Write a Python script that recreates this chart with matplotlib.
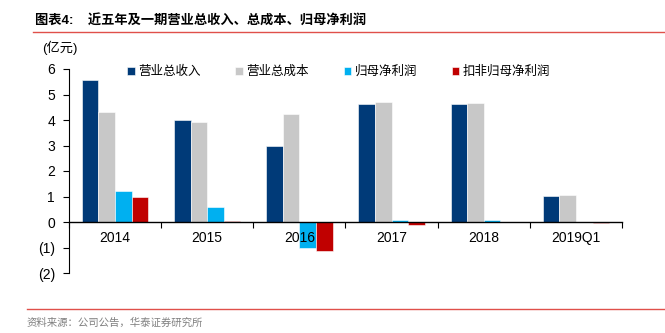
import matplotlib
matplotlib.use("Agg")
import matplotlib.pyplot as plt
import numpy as np

plt.rcParams['font.family'] = ['Liberation Sans', 'Noto Sans CJK SC', 'DejaVu Sans']

# 数据 (亿元)
periodos = ["2014", "2015", "2016", "2017", "2018", "2019Q1"]
ingresos = [5.55, 4.00, 2.97, 4.63, 4.64, 1.03]
costos = [4.33, 3.92, 4.25, 4.72, 4.68, 1.06]
utilidad = [1.23, 0.60, -1.02, 0.07, 0.08, 0.0]
utilidad_ajust = [1.00, 0.03, -1.12, -0.12, 0.0, -0.02]
series = ["营业总收入", "营业总成本", "归母净利润", "扣非归母净利润"]
colores = ["#003A78", "#C8C8C8", "#00B0F0", "#C00000"]

fig = plt.figure(figsize=(6.65, 3.33), dpi=100)
ax = fig.add_axes([69 / 665, 1 - 273 / 333, (622 - 69) / 665, (273 - 69) / 333])

x = np.arange(len(periodos))
ancho = 0.18
datos = [ingresos, costos, utilidad, utilidad_ajust]
barras = []
for i, (d, c) in enumerate(zip(datos, colores)):
    b = ax.bar(x + (i - 1.5) * ancho, d, ancho, color=c, edgecolor="white", linewidth=0.4)
    barras.append(b)

ax.set_xlim(-0.5, len(periodos) - 0.5)
ax.set_ylim(-2, 6)
ax.set_yticks(range(-2, 7))
ax.set_yticklabels(["(2)", "(1)", "0", "1", "2", "3", "4", "5", "6"], fontsize=10)

# eje x en cero
ax.spines["top"].set_visible(False)
ax.spines["right"].set_visible(False)
ax.spines["bottom"].set_position(("data", 0))
ax.spines["bottom"].set_linewidth(1.0)
ax.spines["left"].set_linewidth(0.8)
ax.set_xticks(np.arange(-0.5, len(periodos), 1.0))
ax.set_xticklabels([])
ax.tick_params(axis="x", direction="out", length=4, width=0.8)
ax.tick_params(axis="y", direction="out", length=4, width=0.8, pad=6)
for xi, p in zip(x, periodos):
    ax.text(xi, -0.62, p, ha="center", va="center", fontsize=10)

ax.legend(barras, series, loc="upper left", bbox_to_anchor=(0.085, 1.07), ncol=4,
          frameon=False, fontsize=9, handlelength=0.6, handleheight=0.6,
          handletextpad=0.3, columnspacing=2.75)

fig.text(42 / 665, 1 - 48 / 333, "(亿元)", fontsize=9.5, va="center")

# titulo y lineas
fig.text(35 / 665, 1 - 21 / 333, "图表4:    近五年及一期营业总收入、总成本、归母净利润",
         fontsize=9.5, fontweight="bold", va="center")
fig.add_artist(plt.Line2D([33 / 665, 1.0], [1 - 32 / 333, 1 - 32 / 333], color="#E0504A", linewidth=1.0))
fig.add_artist(plt.Line2D([27 / 665, 1.0], [1 - 309 / 333, 1 - 309 / 333], color="#E0504A", linewidth=1.0))
fig.text(27 / 665, 1 - 323 / 333, "资料来源：公司公告，华泰证券研究所", fontsize=7.5,
         color="#808080", va="center")

fig.savefig("out.png", dpi=100)
